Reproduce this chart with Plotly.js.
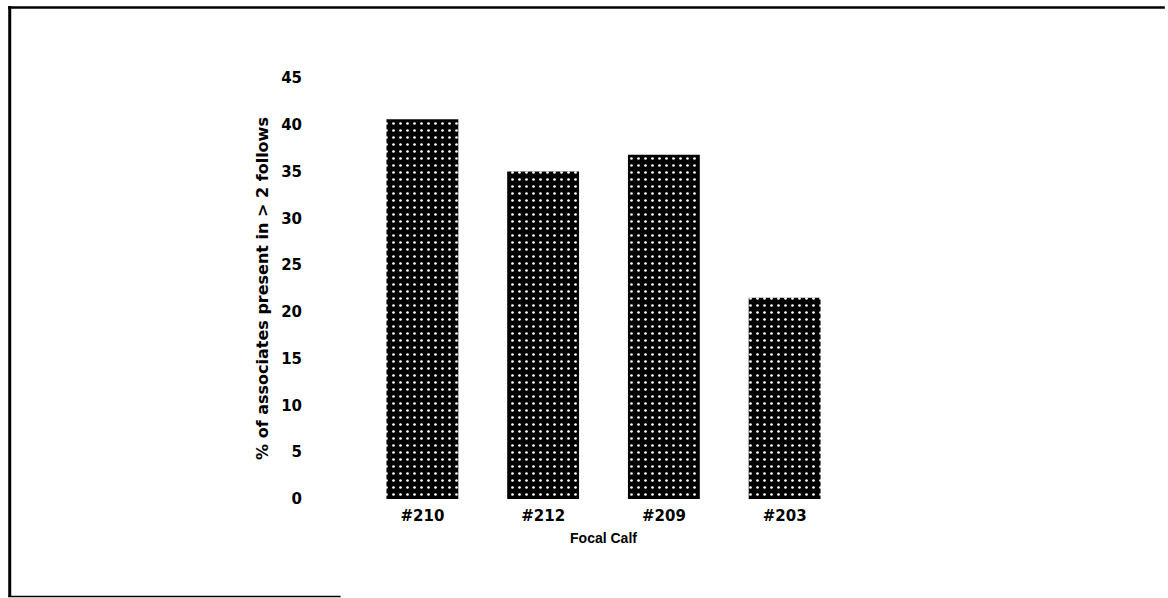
<!DOCTYPE html>
<html>
<head>
<meta charset="utf-8">
<script src="https://cdn.plot.ly/plotly-3.0.1.min.js"></script>
<style>
html,body{margin:0;padding:0;background:#fff;}
#chart{width:1168px;height:598px;}
</style>
</head>
<body>
<div id="chart"></div>
<script>
// Data
const calves = ["#210", "#212", "#209", "#203"];
const pctAssociates = [40.6, 35.0, 36.8, 21.5];
const yTicks = [0, 5, 10, 15, 20, 25, 30, 35, 40, 45];

const W = 1168, H = 598;
const M = {l: 361.5, r: 322.5, t: 78, b: 99};
const pw = W - M.l - M.r, ph = H - M.t - M.b;
const px = x => (x - M.l) / pw;
const py = y => (H - M.b - y) / ph;

const wideFont = '"DejaVu Sans", Verdana, sans-serif';
const narrowFont = '"Liberation Sans", Arial, sans-serif';

const trace = {
  type: 'bar',
  x: calves,
  y: pctAssociates,
  marker: {
    color: '#000',
    line: {width: 0},
    pattern: {shape: '.', fgcolor: '#ffffff', bgcolor: '#000000', size: 7, solidity: 0.12}
  },
  hoverinfo: 'x+y'
};

const frame = [
  {type: 'line', xref: 'paper', yref: 'paper', x0: px(8.5), x1: px(8.5), y0: py(6), y1: py(597), line: {color: '#000', width: 3}},
  {type: 'line', xref: 'paper', yref: 'paper', x0: px(7), x1: px(1166), y0: py(7.5), y1: py(7.5), line: {color: '#000', width: 2.5}},
  {type: 'line', xref: 'paper', yref: 'paper', x0: px(7), x1: px(340), y0: py(596.5), y1: py(596.5), line: {color: '#000', width: 1.5}}
];

const layout = {
  width: W, height: H,
  margin: M,
  paper_bgcolor: '#fff',
  plot_bgcolor: '#fff',
  showlegend: false,
  bargap: 0.405,
  font: {family: wideFont, color: '#000', size: 14, weight: 'bold'},
  xaxis: {
    type: 'category',
    range: [-0.5, 3.5],
    showgrid: false, zeroline: false, showline: false, ticks: '',
    ticklabelstandoff: 6,
    tickfont: {family: wideFont, size: 15, weight: 'bold', color: '#000'},
    title: {text: 'Focal Calf', standoff: 9, font: {family: narrowFont, size: 14, weight: 'bold', color: '#000'}}
  },
  yaxis: {
    range: [0, 45],
    tickvals: yTicks,
    ticktext: yTicks.map(String),
    showgrid: false, zeroline: false, showline: false, ticks: '',
    ticklabelstandoff: 59,
    tickfont: {family: wideFont, size: 15, weight: 'bold', color: '#000'},
    title: {text: '% of associates present in > 2 follows', standoff: 8, font: {family: wideFont, size: 16, weight: 'bold', color: '#000'}}
  },
  shapes: frame
};

Plotly.newPlot('chart', [trace], layout, {displayModeBar: false, staticPlot: true});
</script>
</body>
</html>
